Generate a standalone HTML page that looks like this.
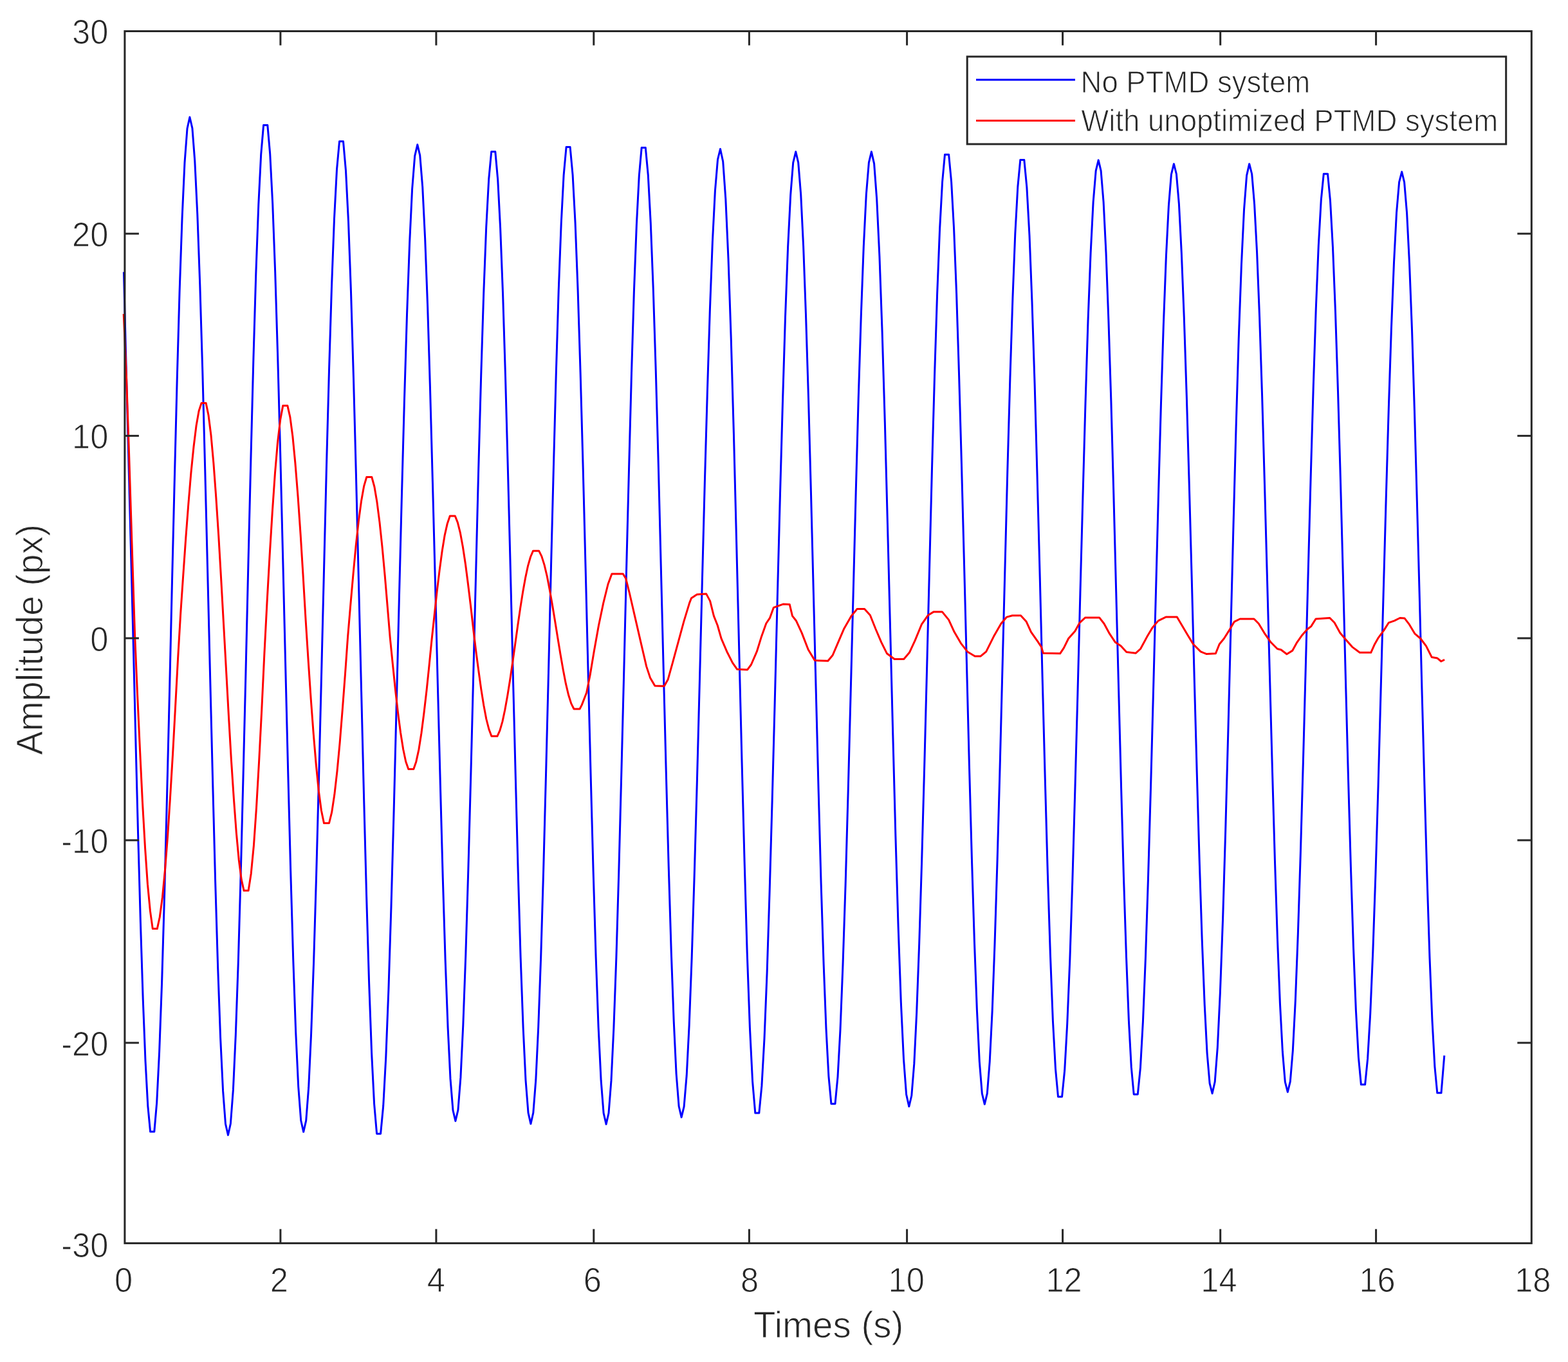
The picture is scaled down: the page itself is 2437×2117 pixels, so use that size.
<!DOCTYPE html>
<html lang="en">
<head>
<meta charset="utf-8">
<title>Amplitude vs Times</title>
<style>
html,body{margin:0;padding:0;background:#fff;}
body{width:2437px;height:2117px;overflow:hidden;}
svg{display:block;}
text{font-family:"Liberation Sans",sans-serif;fill:#262626;stroke:#ffffff;stroke-width:1px;stroke-linejoin:round;}
.tk{font-size:53.3px;}
.lb{font-size:56.5px;}
.lg{font-size:47.2px;}
</style>
</head>
<body>
<svg width="2437" height="2117" viewBox="0 0 2437 2117">
<rect x="0" y="0" width="2437" height="2117" fill="#ffffff"/>
<g>
<g fill="none" stroke-width="3" stroke-linejoin="round" stroke-linecap="butt">
<polyline stroke="#0000ff" points="192.4,422.7 195.6,550.8 207.0,992.2 210.8,1147.7 214.6,1296.9 218.4,1433.8 222.2,1552.8 226.0,1649.2 229.8,1719.1 233.6,1759.0 239.8,1759.0 243.7,1713.8 247.6,1635.5 251.6,1527.4 255.5,1394.5 259.4,1242.8 263.4,1079.0 267.3,910.6 271.3,745.1 275.2,590.0 279.1,452.2 283.1,338.1 287.0,252.7 291.0,199.9 294.9,182.0 298.9,199.3 302.8,250.4 306.8,333.1 310.8,443.8 314.8,577.6 318.7,728.7 322.7,890.5 326.7,1055.8 330.7,1217.6 334.6,1368.7 338.6,1502.5 342.6,1613.2 346.6,1695.9 350.5,1747.0 354.5,1764.3 358.4,1746.5 362.4,1693.9 366.3,1608.9 370.3,1495.3 374.2,1358.3 378.1,1203.9 382.1,1039.2 386.0,871.6 390.0,708.6 393.9,557.5 397.8,425.3 401.8,317.7 405.7,239.8 409.6,194.5 415.8,194.5 419.7,239.0 423.7,316.5 427.7,423.5 431.7,555.3 435.7,705.9 439.7,868.4 443.7,1035.6 447.7,1200.0 451.7,1354.0 455.7,1490.8 459.7,1604.2 463.7,1689.0 467.7,1741.5 471.7,1759.3 475.7,1741.8 479.7,1690.2 483.6,1606.7 487.6,1495.2 491.6,1360.6 495.6,1209.1 499.6,1047.4 503.6,882.9 507.5,722.9 511.5,574.8 515.5,445.1 519.5,339.7 523.5,263.4 527.5,219.8 533.5,219.8 537.5,265.4 541.5,344.7 545.5,454.1 549.5,588.5 553.5,741.6 557.5,906.3 561.6,1075.0 565.6,1239.7 569.6,1392.8 573.6,1527.2 577.6,1636.6 581.6,1715.8 585.6,1762.2 591.6,1762.2 595.7,1719.0 599.8,1643.2 603.9,1538.3 608.0,1408.9 612.1,1261.0 616.1,1101.3 620.2,936.9 624.3,775.2 628.4,623.7 632.5,489.1 636.6,377.5 640.6,294.0 644.7,242.3 648.8,224.8 652.7,241.4 656.7,290.4 660.6,369.7 664.6,475.9 668.5,604.2 672.4,749.2 676.4,904.3 680.3,1063.0 684.3,1218.1 688.2,1363.1 692.1,1491.4 696.1,1597.6 700.0,1676.9 704.0,1725.9 707.9,1742.5 711.9,1725.4 715.9,1674.9 719.8,1593.2 723.8,1484.0 727.8,1352.3 731.8,1204.0 735.8,1045.8 739.8,884.8 743.7,728.2 747.7,583.2 751.7,456.3 755.7,353.2 759.7,278.5 763.7,235.8 769.8,235.8 773.7,279.1 777.6,354.1 781.6,457.7 785.5,585.0 789.4,730.4 793.4,887.3 797.3,1048.7 801.3,1207.3 805.2,1355.9 809.1,1487.9 813.1,1597.2 817.0,1679.0 821.0,1729.7 824.9,1746.8 828.8,1729.6 832.8,1678.7 836.7,1596.5 840.7,1486.7 844.6,1354.1 848.5,1204.8 852.5,1045.5 856.4,883.4 860.4,725.8 864.3,579.7 868.2,451.8 872.2,347.7 876.1,272.3 880.1,228.6 886.1,228.6 890.1,271.8 894.1,347.0 898.1,450.9 902.1,578.8 906.1,724.9 910.1,882.7 914.1,1045.0 918.1,1204.5 922.1,1354.0 926.1,1486.8 930.1,1596.9 934.1,1679.2 938.1,1730.2 942.1,1747.4 946.0,1730.2 950.0,1679.4 953.9,1597.2 957.9,1487.3 961.8,1354.8 965.7,1205.5 969.7,1046.3 973.6,884.2 977.6,726.6 981.5,580.5 985.4,452.6 989.4,348.6 993.3,273.2 997.2,229.5 1003.3,229.5 1007.3,272.4 1011.3,347.1 1015.3,450.3 1019.3,577.2 1023.3,722.2 1027.2,878.8 1031.2,1039.8 1035.2,1198.0 1039.2,1346.4 1043.2,1478.1 1047.2,1587.3 1051.1,1669.0 1055.1,1719.5 1059.1,1736.6 1063.1,1720.2 1067.2,1671.5 1071.2,1592.9 1075.2,1487.6 1079.2,1360.3 1083.3,1216.6 1087.3,1062.7 1091.3,905.4 1095.3,751.5 1099.4,607.8 1103.4,480.5 1107.4,375.2 1111.4,296.6 1115.5,247.9 1119.5,231.5 1123.7,251.1 1127.8,309.1 1132.0,402.3 1136.2,525.8 1140.4,673.4 1144.5,837.2 1148.7,1008.7 1152.9,1179.0 1157.1,1339.3 1161.2,1481.1 1165.4,1597.1 1169.6,1681.1 1173.8,1730.0 1179.8,1730.0 1183.9,1687.9 1188.0,1614.2 1192.1,1512.2 1196.1,1386.5 1200.2,1242.7 1204.3,1087.5 1208.3,927.7 1212.4,770.6 1216.5,623.4 1220.5,492.6 1224.6,384.1 1228.7,303.0 1232.7,252.8 1236.8,235.8 1240.7,252.6 1244.7,302.1 1248.6,382.2 1252.5,489.3 1256.5,618.5 1260.4,764.0 1264.3,919.2 1268.3,1077.2 1272.2,1230.8 1276.1,1373.2 1280.1,1497.9 1284.0,1599.3 1287.9,1672.8 1291.9,1715.7 1298.0,1715.7 1302.0,1673.8 1306.0,1600.7 1310.0,1499.5 1314.1,1375.0 1318.1,1232.6 1322.1,1078.8 1326.2,920.6 1330.2,765.1 1334.2,619.4 1338.3,489.9 1342.3,382.6 1346.3,302.3 1350.4,252.6 1354.4,235.8 1358.6,254.4 1362.7,309.3 1366.9,397.7 1371.1,515.2 1375.3,655.9 1379.4,812.7 1383.6,977.8 1387.8,1142.9 1391.9,1299.7 1396.1,1440.4 1400.3,1557.9 1404.5,1646.3 1408.6,1701.2 1412.8,1719.8 1416.8,1703.0 1420.8,1653.4 1424.7,1573.2 1428.7,1466.0 1432.7,1336.7 1436.7,1191.1 1440.7,1035.7 1444.7,877.6 1448.6,723.9 1452.6,581.5 1456.6,456.9 1460.6,355.7 1464.6,282.3 1468.5,240.2 1474.6,240.2 1478.6,282.3 1482.6,355.5 1486.6,456.5 1490.5,580.8 1494.5,722.9 1498.5,876.2 1502.5,1033.9 1506.4,1188.9 1510.4,1334.2 1514.4,1463.1 1518.4,1570.1 1522.3,1650.1 1526.3,1699.6 1530.3,1716.3 1534.3,1699.7 1538.2,1650.5 1542.2,1570.9 1546.1,1464.7 1550.1,1336.4 1554.1,1192.0 1558.0,1038.0 1562.0,881.2 1565.9,728.7 1569.9,587.5 1573.9,463.8 1577.8,363.3 1581.8,290.5 1585.8,248.4 1591.8,248.4 1595.9,291.3 1600.0,366.0 1604.0,469.3 1608.1,596.2 1612.1,741.0 1616.2,896.7 1620.2,1056.1 1624.3,1211.9 1628.3,1356.6 1632.4,1483.6 1636.4,1586.8 1640.5,1661.6 1644.5,1704.7 1650.6,1704.7 1654.7,1663.5 1658.7,1591.6 1662.8,1492.1 1666.8,1369.6 1670.8,1229.6 1674.9,1078.3 1678.9,922.7 1683.0,769.7 1687.0,626.3 1691.0,498.9 1695.1,393.3 1699.1,314.3 1703.2,265.4 1707.2,248.9 1711.1,265.4 1715.1,314.0 1719.0,392.6 1722.9,497.6 1726.9,624.4 1730.8,767.1 1734.7,919.5 1738.7,1074.5 1742.6,1225.2 1746.5,1364.9 1750.5,1487.3 1754.4,1586.8 1758.3,1658.9 1762.2,1700.9 1768.3,1700.9 1772.4,1659.8 1776.4,1588.2 1780.4,1489.3 1784.4,1367.6 1788.4,1228.4 1792.4,1078.2 1796.4,923.6 1800.4,771.7 1804.4,629.3 1808.4,502.9 1812.4,398.1 1816.4,319.6 1820.4,271.1 1824.4,254.7 1828.4,270.5 1832.4,317.2 1836.3,392.7 1840.3,493.7 1844.3,615.9 1848.3,753.9 1852.3,901.6 1856.2,1052.7 1860.2,1200.4 1864.2,1338.4 1868.2,1460.6 1872.2,1561.6 1876.1,1637.1 1880.1,1683.8 1884.1,1699.6 1888.2,1681.5 1892.3,1628.1 1896.4,1542.0 1900.6,1427.6 1904.7,1290.6 1908.8,1137.9 1912.9,977.1 1917.0,816.4 1921.1,663.7 1925.2,526.7 1929.4,412.3 1933.5,326.2 1937.6,272.8 1941.7,254.7 1945.7,270.5 1949.6,317.1 1953.6,392.5 1957.6,493.4 1961.6,615.4 1965.5,753.1 1969.5,900.6 1973.5,1051.5 1977.5,1199.0 1981.4,1336.7 1985.4,1458.7 1989.4,1559.6 1993.4,1635.0 1997.3,1681.6 2001.3,1697.4 2005.3,1681.2 2009.3,1633.3 2013.3,1555.9 2017.3,1452.4 2021.3,1327.6 2025.3,1187.1 2029.3,1037.2 2033.3,884.6 2037.3,736.3 2041.3,599.0 2045.3,478.8 2049.3,381.2 2053.3,310.5 2057.3,270.2 2063.5,270.2 2067.5,312.1 2071.5,384.8 2075.5,485.2 2079.5,608.6 2083.5,749.1 2087.5,900.3 2091.4,1055.1 2095.4,1206.3 2099.4,1346.8 2103.4,1470.1 2107.4,1570.5 2111.4,1643.3 2115.4,1685.8 2121.6,1685.8 2125.6,1645.9 2129.7,1576.0 2133.8,1479.1 2137.9,1359.8 2142.0,1223.3 2146.0,1075.9 2150.1,924.1 2154.2,775.0 2158.3,635.1 2162.4,510.9 2166.5,407.9 2170.5,330.8 2174.6,283.1 2178.7,267.0 2182.6,283.2 2186.6,331.2 2190.5,408.7 2194.5,512.4 2198.4,637.4 2202.3,778.2 2206.3,928.5 2210.2,1081.4 2214.2,1230.1 2218.1,1367.9 2222.0,1488.6 2226.0,1586.7 2229.9,1657.8 2233.8,1698.8 2240.0,1698.8 2244.8,1640.7"/>
<polyline stroke="#ff0000" points="192.2,488.0 196.6,589.0 200.4,700.0 205.0,845.0 209.7,990.0 213.6,1080.6 217.6,1167.6 221.5,1247.6 225.5,1317.4 229.4,1374.2 233.4,1415.9 237.3,1443.6 244.3,1443.6 248.3,1425.2 252.4,1394.9 256.4,1353.1 260.5,1300.8 264.5,1239.6 268.6,1171.3 272.6,1097.7 276.7,1021.1 280.7,953.4 284.8,893.3 288.8,835.8 292.9,782.5 296.9,735.0 301.0,694.5 305.0,662.1 309.1,638.7 313.1,626.4 320.1,626.4 324.0,645.3 328.0,676.8 331.9,719.8 335.8,772.8 339.8,833.8 343.7,900.7 347.6,970.8 351.6,1043.0 355.5,1114.1 359.4,1181.1 363.4,1241.7 367.3,1294.0 371.2,1336.2 375.2,1366.9 379.1,1384.3 386.1,1384.3 390.2,1357.9 394.4,1314.5 398.5,1255.4 402.6,1183.6 406.8,1102.5 410.9,1015.9 415.0,936.7 419.1,863.4 423.3,795.6 427.4,736.2 431.5,687.7 435.7,652.2 439.8,630.4 446.8,630.4 450.9,648.4 454.9,678.5 458.9,720.0 463.0,771.2 467.1,830.3 471.1,895.1 475.1,963.5 479.2,1027.4 483.2,1086.5 487.3,1141.4 491.4,1189.9 495.4,1230.0 499.4,1259.8 503.5,1279.4 511.5,1279.4 515.7,1262.4 519.8,1235.3 524.0,1198.6 528.2,1153.8 532.3,1102.6 536.5,1047.1 540.6,989.4 544.8,939.9 549.0,892.4 553.1,848.7 557.3,810.4 561.5,779.1 565.6,755.9 569.8,741.5 577.8,741.5 581.9,756.5 585.9,780.1 590.0,811.9 594.1,850.6 598.2,894.8 602.2,942.7 606.3,992.0 610.4,1032.6 614.4,1071.7 618.5,1107.6 622.6,1139.0 626.7,1164.7 630.7,1183.8 634.8,1195.6 642.8,1195.6 646.8,1183.9 650.9,1165.1 654.9,1139.7 658.9,1108.7 663.0,1073.3 667.0,1034.8 671.0,994.5 675.1,956.3 679.1,919.7 683.2,885.9 687.2,856.2 691.2,831.8 695.3,813.7 699.3,802.0 707.3,802.0 711.3,812.1 715.4,828.4 719.4,850.3 723.5,877.3 727.5,908.2 731.6,942.0 735.6,977.5 739.6,1010.8 743.7,1041.8 747.7,1070.6 751.8,1096.2 755.8,1117.5 759.9,1133.5 763.9,1144.3 772.9,1144.3 776.9,1135.4 780.9,1121.6 784.8,1103.3 788.8,1081.1 792.8,1055.9 796.8,1028.7 800.8,1000.4 804.7,972.2 808.7,944.9 812.7,919.8 816.7,897.6 820.6,879.3 824.6,865.5 828.6,856.2 837.6,856.2 841.8,864.6 846.0,877.9 850.2,895.5 854.3,916.7 858.5,940.6 862.7,966.1 866.9,992.1 871.1,1017.6 875.3,1041.5 879.4,1062.7 883.6,1080.3 887.8,1093.6 892.0,1102.0 901.0,1102.0 904.3,1095.6 911.6,1076.7 917.4,1047.6 923.2,1012.7 930.5,972.0 937.8,937.1 945.0,908.0 950.9,892.0 968.3,892.0 972.7,899.2 978.5,922.5 987.2,960.3 995.9,998.1 1004.7,1035.9 1010.5,1053.4 1017.8,1065.9 1032.3,1066.5 1038.1,1056.3 1045.4,1030.1 1054.1,998.1 1062.8,966.1 1071.6,937.1 1074.5,929.8 1083.2,924.0 1097.7,923.1 1103.6,934.1 1109.4,957.4 1115.2,972.0 1121.0,992.3 1129.7,1012.7 1138.5,1030.1 1145.7,1040.3 1161.7,1040.9 1167.5,1033.0 1176.3,1012.7 1183.5,989.4 1190.8,969.0 1196.6,960.3 1202.4,944.3 1217.0,939.1 1227.2,939.4 1231.5,957.4 1237.3,964.7 1246.1,983.6 1256.2,1009.8 1266.4,1026.6 1286.8,1027.2 1294.1,1018.5 1302.8,998.1 1311.5,977.8 1323.1,957.4 1330.4,948.7 1332.0,946.6 1343.6,946.6 1352.4,956.2 1361.1,978.0 1369.8,998.3 1378.5,1015.8 1390.2,1024.5 1404.7,1024.5 1413.4,1014.3 1422.2,995.4 1432.3,970.7 1442.5,956.2 1451.2,950.9 1464.3,950.9 1474.5,963.4 1483.2,982.3 1493.4,999.8 1503.6,1012.9 1515.2,1020.1 1523.9,1020.1 1532.7,1012.9 1544.3,989.6 1555.9,969.2 1564.7,959.1 1573.4,956.7 1586.5,956.7 1595.2,966.3 1602.5,982.3 1612.7,996.9 1618.5,1005.6 1621.4,1015.2 1647.6,1015.8 1653.4,1007.1 1660.6,992.5 1670.8,980.9 1678.1,967.8 1686.8,959.9 1708.6,959.9 1715.9,969.2 1724.6,985.2 1733.4,998.3 1742.1,1004.1 1750.8,1013.5 1765.3,1015.2 1772.6,1008.5 1782.8,989.6 1791.5,975.1 1800.2,964.9 1811.9,959.1 1829.3,959.1 1845.7,986.7 1854.5,1001.2 1866.1,1012.9 1874.8,1016.4 1889.4,1015.8 1895.2,1001.2 1902.4,992.5 1909.7,980.9 1918.4,966.3 1927.2,962.0 1949.0,962.0 1956.2,969.2 1965.0,983.8 1975.1,998.3 1985.3,1008.5 1991.1,1010.0 1999.9,1016.7 2008.6,1011.4 2015.9,998.3 2023.1,988.1 2031.9,978.0 2037.7,973.6 2045.0,962.0 2066.8,960.5 2074.0,967.8 2082.8,983.8 2091.5,994.0 2101.7,1005.6 2113.3,1014.3 2130.7,1014.3 2136.6,1001.2 2142.4,991.1 2151.1,979.4 2158.4,967.8 2167.1,964.9 2175.8,960.5 2183.1,961.1 2190.4,970.7 2199.1,985.2 2207.8,992.5 2216.5,1004.1 2225.3,1021.6 2234.0,1023.1 2239.8,1028.0 2245.1,1025.4"/>
</g>
<g stroke="#262626" stroke-width="3" fill="none" stroke-linecap="butt">
<rect x="193.9" y="48.5" width="2186.4" height="1883.9"/>
<line x1="435.9" y1="1932.4" x2="435.9" y2="1910.4"/>
<line x1="435.9" y1="48.5" x2="435.9" y2="70.5"/>
<line x1="677.9" y1="1932.4" x2="677.9" y2="1910.4"/>
<line x1="677.9" y1="48.5" x2="677.9" y2="70.5"/>
<line x1="922.8" y1="1932.4" x2="922.8" y2="1910.4"/>
<line x1="922.8" y1="48.5" x2="922.8" y2="70.5"/>
<line x1="1164.4" y1="1932.4" x2="1164.4" y2="1910.4"/>
<line x1="1164.4" y1="48.5" x2="1164.4" y2="70.5"/>
<line x1="1409.6" y1="1932.4" x2="1409.6" y2="1910.4"/>
<line x1="1409.6" y1="48.5" x2="1409.6" y2="70.5"/>
<line x1="1651.6" y1="1932.4" x2="1651.6" y2="1910.4"/>
<line x1="1651.6" y1="48.5" x2="1651.6" y2="70.5"/>
<line x1="1896.7" y1="1932.4" x2="1896.7" y2="1910.4"/>
<line x1="1896.7" y1="48.5" x2="1896.7" y2="70.5"/>
<line x1="2138.6" y1="1932.4" x2="2138.6" y2="1910.4"/>
<line x1="2138.6" y1="48.5" x2="2138.6" y2="70.5"/>
<line x1="193.9" y1="363.2" x2="215.9" y2="363.2"/>
<line x1="2380.3" y1="363.2" x2="2358.3" y2="363.2"/>
<line x1="193.9" y1="677.4" x2="215.9" y2="677.4"/>
<line x1="2380.3" y1="677.4" x2="2358.3" y2="677.4"/>
<line x1="193.9" y1="992.0" x2="215.9" y2="992.0"/>
<line x1="2380.3" y1="992.0" x2="2358.3" y2="992.0"/>
<line x1="193.9" y1="1306.0" x2="215.9" y2="1306.0"/>
<line x1="2380.3" y1="1306.0" x2="2358.3" y2="1306.0"/>
<line x1="193.9" y1="1620.9" x2="215.9" y2="1620.9"/>
<line x1="2380.3" y1="1620.9" x2="2358.3" y2="1620.9"/>
</g>
<g class="tk" text-anchor="middle">
<text transform="translate(192.0,2007.6) scale(0.95,1)">0</text>
<text transform="translate(433.9,2007.6) scale(0.95,1)">2</text>
<text transform="translate(677.9,2007.6) scale(0.95,1)">4</text>
<text transform="translate(920.8,2007.6) scale(0.95,1)">6</text>
<text transform="translate(1165.0,2007.6) scale(0.95,1)">8</text>
<text transform="translate(1408.7,2007.6) scale(0.95,1)">10</text>
<text transform="translate(1653.6,2007.6) scale(0.95,1)">12</text>
<text transform="translate(1894.4,2007.6) scale(0.95,1)">14</text>
<text transform="translate(2140.6,2007.6) scale(0.95,1)">16</text>
<text transform="translate(2382.3,2007.6) scale(0.95,1)">18</text>
</g>
<g class="tk" text-anchor="end">
<text transform="translate(168.3,68.0) scale(0.95,1)">30</text>
<text transform="translate(168.3,382.7) scale(0.95,1)">20</text>
<text transform="translate(168.3,697.2) scale(0.95,1)">10</text>
<text transform="translate(168.3,1012.0) scale(0.95,1)">0</text>
<text transform="translate(168.3,1326.2) scale(0.95,1)">-10</text>
<text transform="translate(168.3,1641.3) scale(0.95,1)">-20</text>
<text transform="translate(168.3,1953.9) scale(0.95,1)">-30</text>
</g>
<text class="lb" text-anchor="middle" transform="translate(1287.7,2079.3) scale(1.0,1)">Times (s)</text>
<text class="lb" text-anchor="middle" transform="translate(65.5,994.2) rotate(-90) scale(0.985,1)">Amplitude (px)</text>
<rect x="1503.2" y="88" width="837.5" height="136.0" fill="#ffffff" stroke="#262626" stroke-width="3"/>
<line x1="1517" y1="124.1" x2="1671" y2="124.1" stroke="#0000ff" stroke-width="3"/>
<line x1="1517" y1="187.4" x2="1671" y2="187.4" stroke="#ff0000" stroke-width="3"/>
<text class="lg" transform="translate(1679.5,144.3) scale(0.965,1)">No PTMD system</text>
<text class="lg" transform="translate(1680.3,204.3) scale(0.965,1)">With unoptimized PTMD system</text>
</g>
</svg>
</body>
</html>
